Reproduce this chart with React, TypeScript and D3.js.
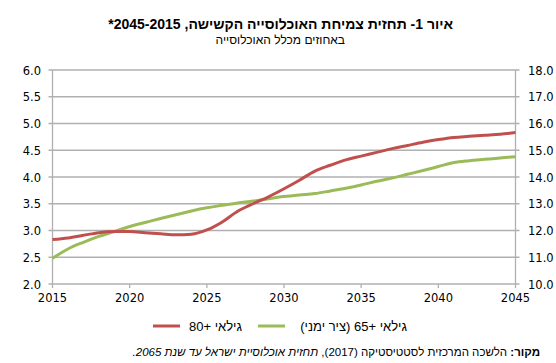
import * as d3 from "d3";

const years: number[] = d3.range(2015, 2046);

// גילאי 80+ (ציר שמאלי)
const age80: number[] = [
  2.83, 2.86, 2.91, 2.96, 2.98, 2.98, 2.96, 2.94, 2.92, 2.93,
  3.01, 3.16, 3.36, 3.5, 3.63, 3.78, 3.94, 4.11, 4.22, 4.32,
  4.39, 4.46, 4.53, 4.59, 4.65, 4.7, 4.74, 4.76, 4.78, 4.8, 4.83,
];

// גילאי 65+ (ציר ימני)
const age65: number[] = [
  10.96, 11.31, 11.56, 11.78, 11.96, 12.15, 12.3, 12.45, 12.59, 12.73,
  12.85, 12.94, 13.03, 13.1, 13.19, 13.27, 13.33, 13.38, 13.48, 13.58,
  13.7, 13.84, 13.96, 14.1, 14.24, 14.39, 14.54, 14.61, 14.66, 14.71, 14.76,
];

const leftTicks: number[] = [2, 2.5, 3, 3.5, 4, 4.5, 5, 5.5, 6];
const rightTicks: number[] = [10, 11, 12, 13, 14, 15, 16, 17, 18];
const yearTicks: number[] = [2015, 2020, 2025, 2030, 2035, 2040, 2045];

const title = "איור 1- תחזית צמיחת האוכלוסייה הקשישה, 2045-2015*";
const subtitle = "באחוזים מכלל האוכלוסייה";
const legend80 = "גילאי +80";
const legend65 = "גילאי +65 (ציר ימני)";

const RED = "#c0504d";
const GREEN = "#9bbb59";
const GRID = "#b0b0b0";
const NUM_FONT = "'DejaVu Sans', sans-serif";
const HEB_FONT = "'Liberation Sans', Arial, sans-serif";

export default function App() {
  const width = 556;
  const height = 363;
  const left = 52.5;
  const right = 515.5;
  const top = 70;
  const bottom = 284;

  const x = d3.scaleLinear().domain([2015, 2045]).range([left, right]);
  const yL = d3.scaleLinear().domain([2, 6]).range([bottom, top]);
  const yR = d3.scaleLinear().domain([10, 18]).range([bottom, top]);

  const line80 = d3
    .line<number>()
    .x((_, i) => x(years[i]))
    .y((d) => yL(d))
    .curve(d3.curveMonotoneX);
  const line65 = d3
    .line<number>()
    .x((_, i) => x(years[i]))
    .y((d) => yR(d))
    .curve(d3.curveMonotoneX);

  return (
    <svg
      width={width}
      height={height}
      style={{ position: "absolute", left: 0, top: 0, background: "#fff" }}
      fontFamily={NUM_FONT}
    >
      <text
        x={453}
        y={29}
        direction="rtl"
        textAnchor="start"
        fontSize={14}
        fontWeight="bold"
        fontFamily={HEB_FONT}
        fill="#000"
      >
        {title}
      </text>
      <text
        x={345}
        y={44}
        direction="rtl"
        textAnchor="start"
        fontSize={12}
        fontFamily={HEB_FONT}
        fill="#000"
      >
        {subtitle}
      </text>

      {/* gridlines */}
      {leftTicks.map((t) => (
        <line
          key={"g" + t}
          x1={left - 4}
          x2={right + 4}
          y1={yL(t)}
          y2={yL(t)}
          stroke={GRID}
          strokeWidth={1.3}
        />
      ))}
      <line x1={left} x2={left} y1={top} y2={bottom} stroke={GRID} strokeWidth={1.3} />
      <line x1={right} x2={right} y1={top} y2={bottom} stroke={GRID} strokeWidth={1.3} />
      {yearTicks.map((t) => (
        <line
          key={"xt" + t}
          x1={x(t)}
          x2={x(t)}
          y1={bottom}
          y2={bottom + 4}
          stroke={GRID}
          strokeWidth={1.3}
        />
      ))}

      {/* axis labels */}
      {leftTicks.map((t) => (
        <text key={"l" + t} x={41} y={yL(t) + 4.5} textAnchor="end" fontSize={11.5} fill="#000">
          {d3.format(".1f")(t)}
        </text>
      ))}
      {rightTicks.map((t) => (
        <text key={"r" + t} x={528} y={yR(t) + 4.5} textAnchor="start" fontSize={11.5} fill="#000">
          {d3.format(".1f")(t)}
        </text>
      ))}
      {yearTicks.map((t) => (
        <text key={"x" + t} x={x(t)} y={302} textAnchor="middle" fontSize={11.5} fill="#000">
          {t}
        </text>
      ))}

      {/* series */}
      <path d={line65(age65) ?? ""} fill="none" stroke={GREEN} strokeWidth={3} />
      <path d={line80(age80) ?? ""} fill="none" stroke={RED} strokeWidth={3} />

      {/* legend */}
      <g fontFamily={HEB_FONT} fontSize={13} fill="#000">
        <line x1={153} x2={180} y1={326} y2={326} stroke={RED} strokeWidth={3} />
        <text x={242} y={330.5} direction="rtl" textAnchor="start">
          {legend80}
        </text>
        <line x1={258} x2={285} y1={326} y2={326} stroke={GREEN} strokeWidth={3} />
        <text x={407} y={330.5} direction="rtl" textAnchor="start">
          {legend65}
        </text>
      </g>

      {/* source */}
      <text
        x={540}
        y={356}
        direction="rtl"
        textAnchor="start"
        fontSize={11.5}
        fontFamily={HEB_FONT}
        fill="#000"
      >
        <tspan fontWeight="bold">מקור: </tspan>
        <tspan>הלשכה המרכזית לסטטיסטיקה (2017), </tspan>
        <tspan fontStyle="italic">תחזית אוכלוסיית ישראל עד שנת 2065.</tspan>
      </text>
    </svg>
  );
}
